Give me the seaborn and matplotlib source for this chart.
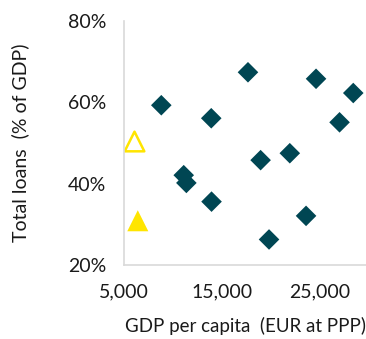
import pandas as pd
import seaborn as sns
import matplotlib.pyplot as plt

# GDP per capita (EUR at PPP) and total loans (% of GDP)
gdp_main = [8800, 17650, 24600, 28400, 13900, 27000, 18940, 21920, 11090, 11360, 13930, 19800, 23580]
loans_main = [59.3, 67.4, 65.8, 62.3, 56.1, 55.1, 45.8, 47.5, 42.1, 40.2, 35.6, 26.3, 32.1]
gdp_open = [6000]
loans_open = [50.6]
gdp_fill = [6400]
loans_fill = [30.9]
xticks = [5000, 15000, 25000]
yticks = [20, 40, 60, 80]

teal = "#004653"
yellow = "#ffe500"
grey = "#d9d9d9"

sns.set_style("white")
plt.rcParams["font.family"] = ["Lato", "DejaVu Sans"]

fig = plt.figure(figsize=(3.66, 3.39), dpi=100)
ax = fig.add_axes([0.339, 0.218, 0.661, 0.72])

main = pd.DataFrame({"gdp": gdp_main, "loans": loans_main})
sns.scatterplot(data=main, x="gdp", y="loans", marker="D", s=110, color=teal,
                edgecolor="none", ax=ax)
sns.scatterplot(x=gdp_open, y=loans_open, marker="^", s=200, facecolor="white",
                edgecolor=yellow, linewidth=1.8, ax=ax)
sns.scatterplot(x=gdp_fill, y=loans_fill, marker="^", s=230, color=yellow,
                edgecolor="none", ax=ax)

ax.set_xlim(5000, 29700)
ax.set_ylim(20, 80)
ax.set_xticks(xticks)
ax.set_xticklabels([f"{v:,}" for v in xticks])
ax.set_yticks(yticks)
ax.set_yticklabels([f"{v}%" for v in yticks])

for side in ["top", "right"]:
    ax.spines[side].set_visible(False)
for side in ["left", "bottom"]:
    ax.spines[side].set_color(grey)
    ax.spines[side].set_linewidth(1.2)
ax.tick_params(axis="both", which="both", length=5, width=1.2, color=grey,
               labelsize=14, labelcolor="#1a1a1a", direction="out")
ax.tick_params(axis="x", pad=8)
ax.tick_params(axis="y", pad=8)

ax.set_xlabel("GDP per capita  (EUR at PPP)", fontsize=13.5, color="#1a1a1a", labelpad=12)
ax.set_ylabel("Total loans  (% of GDP)", fontsize=14, color="#1a1a1a", labelpad=28)

fig.savefig("out.png", dpi=100)
